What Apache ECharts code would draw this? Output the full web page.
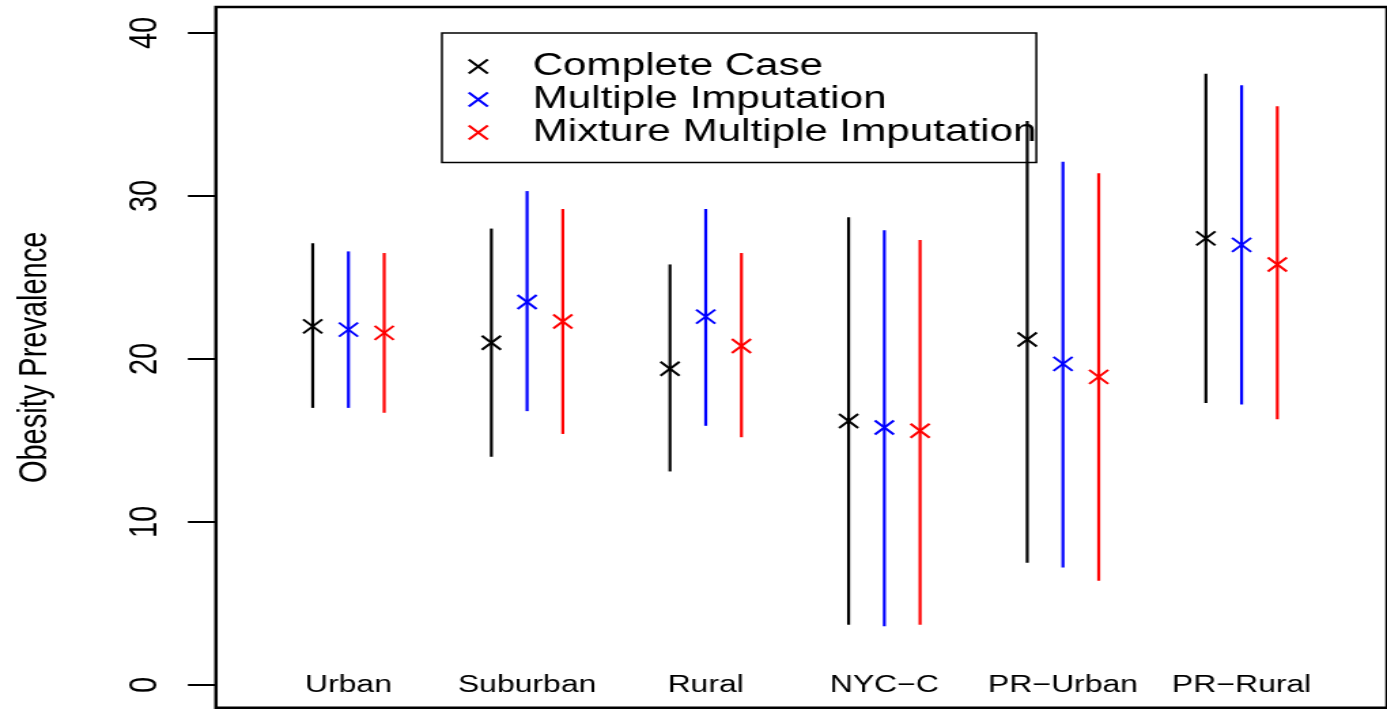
<!DOCTYPE html>
<html>
<head>
<meta charset="utf-8">
<title>Obesity Prevalence</title>
<script src="https://cdn.jsdelivr.net/npm/echarts@6/dist/echarts.min.js"></script>
<style>
  html, body { margin: 0; padding: 0; background: #ffffff; overflow: hidden; }
  #wrap { width: 1387px; height: 710px; overflow: hidden; }
  /* the chart is laid out on a narrower canvas and widened horizontally */
  #chart { width: 1020px; height: 710px; transform: scaleX(1.3598); transform-origin: 0 0; }
</style>
</head>
<body>
<div id="wrap"><div id="chart"></div></div>
<script>
// Region groups
const categories = ['Urban', 'Suburban', 'Rural', 'NYC\u2212C', 'PR\u2212Urban', 'PR\u2212Rural'];

// Complete Case: point estimate and interval
const ccMean = [22.0, 21.0, 19.4, 16.2, 21.2, 27.4];
const ccLow  = [17.0, 14.0, 13.1,  3.7,  7.5, 17.3];
const ccHigh = [27.1, 28.0, 25.8, 28.7, 34.6, 37.5];

// Multiple Imputation
const miMean = [21.8, 23.5, 22.6, 15.8, 19.7, 27.0];
const miLow  = [17.0, 16.8, 15.9,  3.6,  7.2, 17.2];
const miHigh = [26.6, 30.3, 29.2, 27.9, 32.1, 36.8];

// Mixture Multiple Imputation
const mmiMean = [21.6, 22.3, 20.8, 15.6, 18.9, 25.8];
const mmiLow  = [16.7, 15.4, 15.2,  3.7,  6.4, 16.3];
const mmiHigh = [26.5, 29.2, 26.5, 27.3, 31.4, 35.5];

// y-axis tick labels
const yTicks = [0, 10, 20, 30, 40];

const methods = [
  { name: 'Complete Case',               color: '#000000', mean: ccMean,  low: ccLow,  high: ccHigh,  offset: 1 },
  { name: 'Multiple Imputation',         color: '#0000FF', mean: miMean,  low: miLow,  high: miHigh,  offset: 2 },
  { name: 'Mixture Multiple Imputation', color: '#FF0000', mean: mmiMean, low: mmiLow, high: mmiHigh, offset: 3 }
];

// each region occupies five x units; the three estimates sit at +1, +2, +3
const groupWidth = 5;
const labelPositions = categories.map((c, i) => i * groupWidth + 2);

const FONT = "'Liberation Sans', Arial, Helvetica, sans-serif";

// vertical interval with an "x" at the estimate
function renderInterval(params, api) {
  const x = api.value(0);
  const pMean = api.coord([x, api.value(1)]);
  const pLow = api.coord([x, api.value(2)]);
  const pHigh = api.coord([x, api.value(3)]);
  const color = api.visual('color');
  const h = 7;
  return {
    type: 'group',
    children: [
      { type: 'line', shape: { x1: pLow[0], y1: pLow[1], x2: pHigh[0], y2: pHigh[1] },
        style: { stroke: color, lineWidth: 2.2 } },
      { type: 'line', shape: { x1: pMean[0] - h, y1: pMean[1] - h, x2: pMean[0] + h, y2: pMean[1] + h },
        style: { stroke: color, lineWidth: 2 } },
      { type: 'line', shape: { x1: pMean[0] - h, y1: pMean[1] + h, x2: pMean[0] + h, y2: pMean[1] - h },
        style: { stroke: color, lineWidth: 2 } }
    ]
  };
}

const series = methods.map(m => ({
  name: m.name,
  type: 'custom',
  renderItem: renderInterval,
  color: m.color,
  encode: { x: 0, y: [1, 2, 3] },
  silent: true,
  data: categories.map((c, i) => [i * groupWidth + m.offset, m.mean[i], m.low[i], m.high[i]])
}));

// "x" legend glyph; the trailing move widens its box so the text sits further right
const crossIcon = 'path://M0,0L10,10M10,0L0,10M30,5';

const chart = echarts.init(document.getElementById('chart'), null, { renderer: 'canvas' });
chart.setOption({
  animation: false,
  backgroundColor: '#ffffff',
  grid: {
    show: true,
    left: 158.8,
    top: 6.9,
    width: 881.2,
    height: 700.9,
    borderColor: '#000000',
    borderWidth: 2.5,
    backgroundColor: 'transparent'
  },
  xAxis: {
    type: 'value',
    min: -1.709,
    max: 31.07,
    axisLine: { show: false, onZero: false },
    axisTick: { show: false },
    splitLine: { show: false },
    axisLabel: {
      customValues: labelPositions,
      formatter: v => categories[Math.round((v - 2) / groupWidth)],
      inside: true,
      margin: 21.8,
      verticalAlign: 'middle',
      align: 'center',
      color: '#000000',
      fontFamily: FONT,
      fontSize: 23.5
    }
  },
  yAxis: {
    type: 'value',
    min: -1.4,
    max: 41.6,
    name: 'Obesity Prevalence',
    nameLocation: 'middle',
    nameRotate: 90,
    nameGap: 133,
    nameTextStyle: {
      color: '#000000',
      fontFamily: FONT,
      fontSize: 29,
      align: 'center',
      verticalAlign: 'middle'
    },
    axisLine: { show: false, onZero: false },
    splitLine: { show: false },
    axisTick: {
      show: true,
      customValues: yTicks,
      length: 20.6,
      lineStyle: { color: '#000000', width: 2 }
    },
    axisLabel: {
      customValues: yTicks,
      rotate: 90,
      margin: 52,
      align: 'center',
      verticalAlign: 'middle',
      color: '#000000',
      fontFamily: FONT,
      fontSize: 29
    }
  },
  legend: {
    orient: 'vertical',
    left: 325,
    top: 33,
    padding: [18, 0, 14.5, 18.7],
    itemGap: 2,
    itemWidth: 42,
    itemHeight: 14,
    borderColor: '#000000',
    borderWidth: 1.5,
    selectedMode: false,
    textStyle: { color: '#000000', fontFamily: FONT, fontSize: 31 },
    data: methods.map(m => ({
      name: m.name,
      icon: crossIcon,
      itemStyle: { color: 'transparent', borderColor: m.color, borderWidth: 2 }
    }))
  },
  series: series
});
</script>
</body>
</html>
